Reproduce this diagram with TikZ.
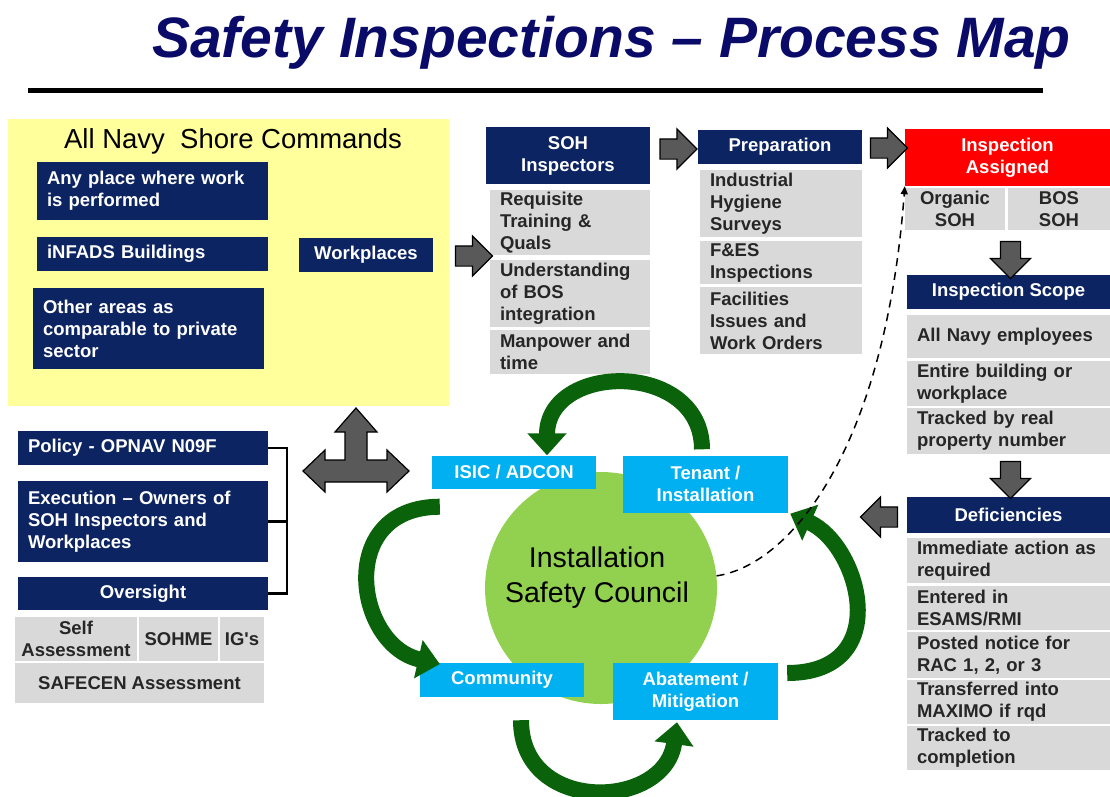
\documentclass[tikz,border=0pt]{standalone}
\usepackage{fontspec}
\setmainfont{Liberation Sans}
\usetikzlibrary{arrows.meta,shapes.arrows}

\definecolor{titleblue}{RGB}{10,10,104}
\definecolor{navyblue}{RGB}{12,36,97}
\definecolor{cellgray}{RGB}{217,217,217}
\definecolor{shoreyellow}{RGB}{255,255,156}
\definecolor{cyanfill}{RGB}{0,176,240}
\definecolor{councilgreen}{RGB}{146,208,80}
\definecolor{cyclegreen}{RGB}{10,98,10}
\definecolor{arrowgray}{RGB}{89,89,89}

\newcommand\bodyfont{\bfseries\fontsize{18.5}{22}\selectfont}

\tikzset{
navybox/.style={fill=navyblue, text=white, font=\bodyfont, inner xsep=10pt, inner ysep=0pt, align=left},
cell/.style={fill=cellgray, text=black!85, font=\bodyfont, inner xsep=10pt, inner ysep=0pt, align=left},
redbox/.style={fill=red, text=white, font=\bodyfont, inner sep=0pt, align=center},
skybox/.style={fill=cyanfill, text=white, font=\bodyfont, inner sep=0pt, align=center},
boxsize/.style 2 args={minimum width=#1, minimum height=#2, text width=#1-20},
csize/.style 2 args={minimum width=#1, minimum height=#2, inner xsep=1pt, align=center},
garrow/.style={single arrow, draw=black, fill=arrowgray, line width=1.2pt, inner sep=9.5pt, minimum height=37pt, minimum width=40pt, single arrow head extend=10pt},
cyclearrow/.style={draw=cyclegreen, line width=16pt, -{Triangle[width=38pt,length=22pt]}}
}

\begin{document}
\begin{tikzpicture}[x=1pt, y=-1pt]
\useasboundingbox (0,0) rectangle (1110,796);

\node[anchor=base, text=titleblue, font=\bfseries\itshape\fontsize{57}{60}\selectfont] (title) at (611.5,57) {Safety Inspections -- Process Map};
\draw[line width=4.5pt] (28,90.5) -- (1043,90.5);

\node[fill=shoreyellow, inner sep=0pt, minimum width=441, minimum height=287, anchor=north west] (shore) at (8,119) {};
\node[anchor=base, font=\fontsize{27.5}{30}\selectfont] (shorelbl) at (233,148) {All Navy\ \ Shore Commands};
\node[navybox, boxsize={231}{58}] (anyplace) at (152.5,191) {Any place where work\\is performed};
\node[navybox, boxsize={231}{34}] (infads) at (152.5,254) {iNFADS Buildings};
\node[navybox, boxsize={231}{81}] (otherareas) at (148.5,328.5) {Other areas as\\comparable to private\\sector};
\node[navybox, csize={134}{34}] (workplaces) at (366,255) {Workplaces};

\node[navybox, csize={164}{57}] (sohinsp) at (568,155.5) {SOH\\Inspectors};
\foreach \n/\y/\h/\txt in {req1/222.5/65/{Requisite\\Training \&\\Quals}, req2/293.5/67/{Understanding\\of BOS\\integration}, req3/352/44/{Manpower and\\time}}
  \node[cell, boxsize={160}{\h}] (\n) at (570,\y) {\txt};

\node[navybox, csize={164}{34}] (prep) at (780,147) {Preparation};
\foreach \n/\y/\h/\txt in {prep1/203.5/67/{Industrial\\Hygiene\\Surveys}, prep2/262.5/43/{F\&ES\\Inspections}, prep3/320.5/67/{Facilities\\Issues and\\Work Orders}}
  \node[cell, boxsize={162}{\h}] (\n) at (781,\y) {\txt};

\node[redbox, csize={205}{57}] (assigned) at (1007.5,157.5) {Inspection\\Assigned};
\node[cell, csize={100}{42}] (organic) at (955,209) {Organic\\SOH};
\node[cell, csize={102}{42}] (bos) at (1059,209) {BOS\\SOH};

\node[navybox, csize={203}{34}] (scope) at (1008.5,292) {Inspection Scope};
\foreach \n/\y/\h/\txt in {sc1/336.5/43/{All Navy employees}, sc2/383.5/45/{Entire building or\\workplace}, sc3/431/46/{Tracked by real\\property number}}
  \node[cell, boxsize={203}{\h}] (\n) at (1008.5,\y) {\txt};

\node[navybox, csize={203}{36}] (defic) at (1008.5,515) {Deficiencies};
\foreach \n/\y/\h/\txt in {d1/560.5/45/{Immediate action as\\required}, d2/608/44/{Entered in\\ESAMS/RMI}, d3/655/46/{Posted notice for\\RAC 1, 2, or 3}, d4/702/44/{Transferred into\\MAXIMO if rqd}, d5/748/44/{Tracked to\\completion}}
  \node[cell, boxsize={203}{\h}] (\n) at (1008.5,\y) {\txt};

\node[garrow] (arrA) at (469,256) {};
\node[garrow] (arrB) at (673.5,149) {};
\node[garrow] (arrC) at (884,148) {};
\node[garrow, shape border rotate=270] (arrD) at (1010.5,255) {};
\node[garrow, shape border rotate=270] (arrE) at (1010.5,475) {};
\node[garrow, shape border rotate=180] (arrF) at (884,517) {};

\node[navybox, boxsize={250}{34}] (policy) at (143,448) {Policy - OPNAV N09F};
\node[navybox, boxsize={250}{81}] (execution) at (143,521.5) {Execution -- Owners of\\SOH Inspectors and\\Workplaces};
\node[navybox, csize={250}{33}] (oversight) at (143,593.5) {Oversight};
\node[cell, csize={122}{44}] (selfass) at (76,639) {Self\\Assessment};
\node[cell, csize={79}{44}] (sohme) at (178.5,639) {SOHME};
\node[cell, csize={44}{44}] (igs) at (242,639) {IG\textquotesingle s};
\node[cell, csize={249}{40}] (safecen) at (139.5,683) {SAFECEN Assessment};
\draw[line width=2.5pt] (policy.east) -- ++(19,0) |- (oversight.east);
\draw[line width=2.5pt] (execution.east) -- ++(19,0);

\draw[fill=arrowgray, line width=1.2pt] (303,471) -- (325,450) -- (325,460) -- (345,460) -- (345,432) -- (335,432) -- (356,408) -- (377,432) -- (367,432) -- (367,460) -- (387,460) -- (387,450) -- (409,471) -- (387,492) -- (387,482) -- (325,482) -- (325,492) -- cycle;

\node[circle, fill=councilgreen, minimum size=232] (isc) at (601,588) {};
\node[align=center, font=\fontsize{28.5}{35}\selectfont] (isctext) at (597,578) {Installation\\Safety Council};
\node[skybox, csize={164}{33}] (isic) at (514,472) {ISIC / ADCON};
\node[skybox, csize={165}{57}] (tenant) at (705.5,484) {Tenant /\\Installation};
\node[skybox, csize={164}{34}] (community) at (502,680) {Community};
\node[skybox, csize={165}{57}] (abatement) at (695.5,691.5) {Abatement /\\Mitigation};

\draw[cyclearrow] ([xshift=-3.5pt,yshift=6pt]tenant.north) .. controls (702,360) and (547,362) .. ([xshift=33pt]isic.north);
\draw[cyclearrow] ([xshift=8pt,yshift=-18pt]isic.south west) .. controls (335,507) and (355,645) .. ([xshift=20pt,yshift=16pt]community.west);
\draw[cyclearrow] ([xshift=19pt,yshift=-23pt]community.south) .. controls (521,815) and (665,810) .. ([xshift=-18.5pt,yshift=-2pt]abatement.south);
\draw[cyclearrow] ([xshift=9pt,yshift=18.5pt]abatement.east) .. controls (895,673) and (860,545) .. ([xshift=2pt,yshift=-1pt]tenant.south east);

\draw[line width=1.5pt, dash pattern=on 8pt off 6pt, -{Triangle[width=7pt,length=8pt]}] (isc.6) .. controls (790,565) and (885,450) .. (assigned.south west);
\end{tikzpicture}
\end{document}
